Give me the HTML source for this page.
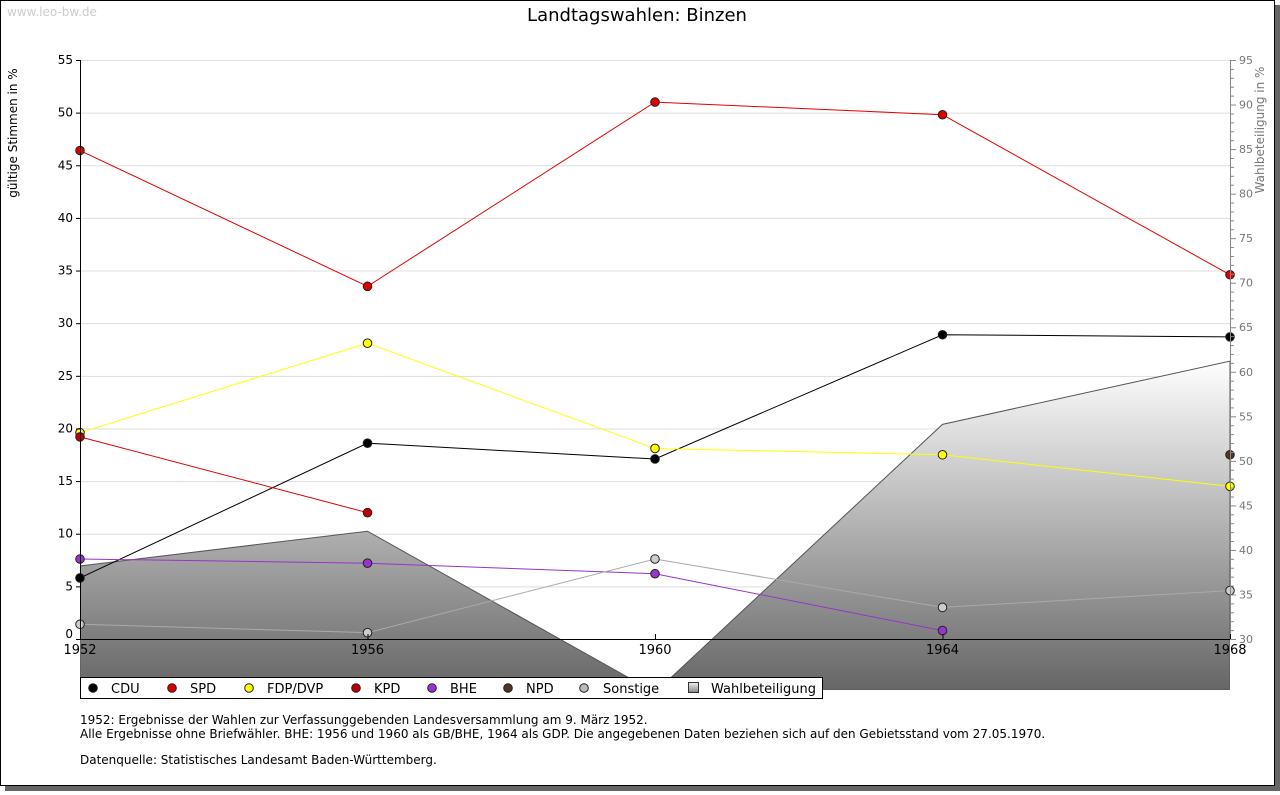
<!DOCTYPE html>
<html><head><meta charset="utf-8"><style>
body{margin:0;background:#fff;font-family:"DejaVu Sans","Liberation Sans",sans-serif;}
svg text{font-family:"DejaVu Sans","Liberation Sans",sans-serif;}
</style></head><body>
<svg id="chart" width="1280" height="791" xmlns="http://www.w3.org/2000/svg">
<defs>
<linearGradient id="wg" x1="0" y1="360" x2="0" y2="690" gradientUnits="userSpaceOnUse">
<stop offset="0" stop-color="#ffffff"/><stop offset="1" stop-color="#666666"/></linearGradient>
<linearGradient id="lg" x1="0" y1="0" x2="0" y2="1"><stop offset="0" stop-color="#eee"/><stop offset="1" stop-color="#888"/></linearGradient>
<clipPath id="clipArea"><rect x="80" y="0" width="1150" height="690"/></clipPath>
</defs>
<rect x="5" y="5" width="1275" height="786" fill="#666"/>
<rect x="0.5" y="0.5" width="1274" height="785" fill="#fff" stroke="#000"/>
<text x="7" y="16" font-size="12" fill="#ccc">www.leo-bw.de</text>
<text x="637" y="21" font-size="18" text-anchor="middle" fill="#000">Landtagswahlen: Binzen</text>
<text transform="translate(17,133) rotate(-90)" font-size="12" text-anchor="middle">gültige Stimmen in %</text>
<text transform="translate(1264,130) rotate(-90)" font-size="12" fill="#777" text-anchor="middle">Wahlbeteiligung in %</text>
<g id="grid"></g><g id="area"></g><g id="lines"></g><g id="axes"></g>
<g>
<rect x="80.5" y="677.5" width="742" height="21" fill="#fff" stroke="#000"/>
<g id="legend"></g>
</g>
<text x="80" y="724" font-size="12">1952: Ergebnisse der Wahlen zur Verfassunggebenden Landesversammlung am 9. März 1952.</text>
<text x="80" y="738" font-size="12">Alle Ergebnisse ohne Briefwähler. BHE: 1956 und 1960 als GB/BHE, 1964 als GDP. Die angegebenen Daten beziehen sich auf den Gebietsstand vom 27.05.1970.</text>
<text x="80" y="764" font-size="12">Datenquelle: Statistisches Landesamt Baden-Württemberg.</text>
</svg>
<script>
const years=[1952,1956,1960,1964,1968];
const cdu=[5.8,18.6,17.1,28.9,28.7];
const spd=[46.4,33.5,51.0,49.8,34.6];
const fdp=[19.6,28.1,18.1,17.5,14.5];
const kpd=[19.2,12.0,null,null,null];
const bhe=[7.6,7.2,6.2,0.8,null];
const npd=[null,null,null,null,17.5];
const sonstige=[1.4,0.6,7.6,3.0,4.6];
const turnout=[38.2,42.1,24.0,54.1,61.2];
const leftTicks=[0,5,10,15,20,25,30,35,40,45,50,55];
const rightTicks=[30,35,40,45,50,55,60,65,70,75,80,85,90,95];

const NS="http://www.w3.org/2000/svg";
const X0=80,X1=1230,Y0=639,Y1=60;
const xs=i=>X0+(years[i]-years[0])/(years[years.length-1]-years[0])*(X1-X0);
const yl=v=>Y0-v/55*(Y0-Y1);
const yr=v=>Y0-(v-30)/65*(Y0-Y1);
function el(tag,attrs,parent){const e=document.createElementNS(NS,tag);for(const k in attrs)e.setAttribute(k,attrs[k]);document.getElementById(parent).appendChild(e);return e;}

leftTicks.forEach(t=>{
 if(t>0){const g=el('line',{x1:X0,x2:X1,y1:yl(t)+.5,y2:yl(t)+.5,stroke:'#ddd'},'grid');
 
 }
});
let pts=`${X0},690 `+years.map((y,i)=>`${xs(i)},${yr(turnout[i])}`).join(' ')+` ${X1},690`;
const a=el('polygon',{points:pts,fill:'url(#wg)',stroke:'#555','stroke-width':1,'clip-path':'url(#clipArea)'},'area');



const series=[['cdu',cdu,'#000','#000'],['spd',spd,'#e00000','#e00000'],['fdp',fdp,'#ffff00','#ffff00'],['kpd',kpd,'#c00000','#e00000'],['bhe',bhe,'#9933cc','#9933cc'],['npd',npd,'#553322','#553322'],['sonstige',sonstige,'#ccc','#aaa']];
series.forEach(([n,d,fill,lc])=>{
 const p=[];d.forEach((v,i)=>{if(v!==null)p.push(`${xs(i)},${yl(v)}`);});
 if(p.length>1){const l=el('polyline',{points:p.join(' '),fill:'none',stroke:lc,'stroke-width':1},'lines');
 
 }
});
series.forEach(([n,d,fill])=>{
 d.forEach((v,i)=>{if(v===null)return;
 const m=el('circle',{cx:xs(i),cy:yl(v),r:4.3,fill:fill,stroke:'#222','stroke-width':1},'lines');
 
 });
});
el('line',{x1:X0+.5,x2:X0+.5,y1:Y1,y2:Y0,stroke:'#000'},'axes');
el('line',{x1:X0,x2:X1,y1:Y0+.5,y2:Y0+.5,stroke:'#000'},'axes');
el('line',{x1:X1+.5,x2:X1+.5,y1:Y1,y2:Y0,stroke:'#888'},'axes');
leftTicks.forEach(t=>{
 el('line',{x1:X0-4,x2:X0,y1:yl(t)+.5,y2:yl(t)+.5,stroke:'#000'},'axes');
 const tx=el('text',{x:X0-7,y:yl(t)+(t===0?-1:4),'font-size':12,'text-anchor':'end'},'axes');tx.textContent=t;
 
 
});
for(let v=30;v<=95;v++){el('line',{x1:X1,x2:X1+(v%5?4:6),y1:yr(v)+.5,y2:yr(v)+.5,stroke:'#888'},'axes');}
rightTicks.forEach(t=>{
 const tx=el('text',{x:X1+9,y:yr(t)+4,'font-size':11,fill:'#777'},'axes');tx.textContent=t;
 
 
});
years.forEach((y,i)=>{
 el('line',{x1:xs(i)+.5,x2:xs(i)+.5,y1:Y0-5,y2:Y0,stroke:'#000'},'axes');
 const tx=el('text',{x:xs(i),y:Y0+15,'font-size':13,'text-anchor':'middle'},'axes');tx.textContent=y;
 
 
});
const leg=[['CDU','#000',93,111],['SPD','#e00000',172,190],['FDP/DVP','#ffff00',249,267],['KPD','#c00000',356,374],['BHE','#9933cc',432,450],['NPD','#553322',508,526],['Sonstige','#bbb',584,603]];
leg.forEach(([t,c,mx,tx])=>{
 const m=el('circle',{cx:mx,cy:688,r:4.3,fill:c,stroke:'#222','stroke-width':1},'legend');
 
 
 const e=el('text',{x:tx,y:693,'font-size':13},'legend');e.textContent=t;
 
 
});
const r=el('rect',{x:688.5,y:682.5,width:10,height:10,fill:'url(#lg)',stroke:'#333'},'legend');


const wt=el('text',{x:711,y:693,'font-size':13},'legend');wt.textContent='Wahlbeteiligung';


</script>
</body></html>
